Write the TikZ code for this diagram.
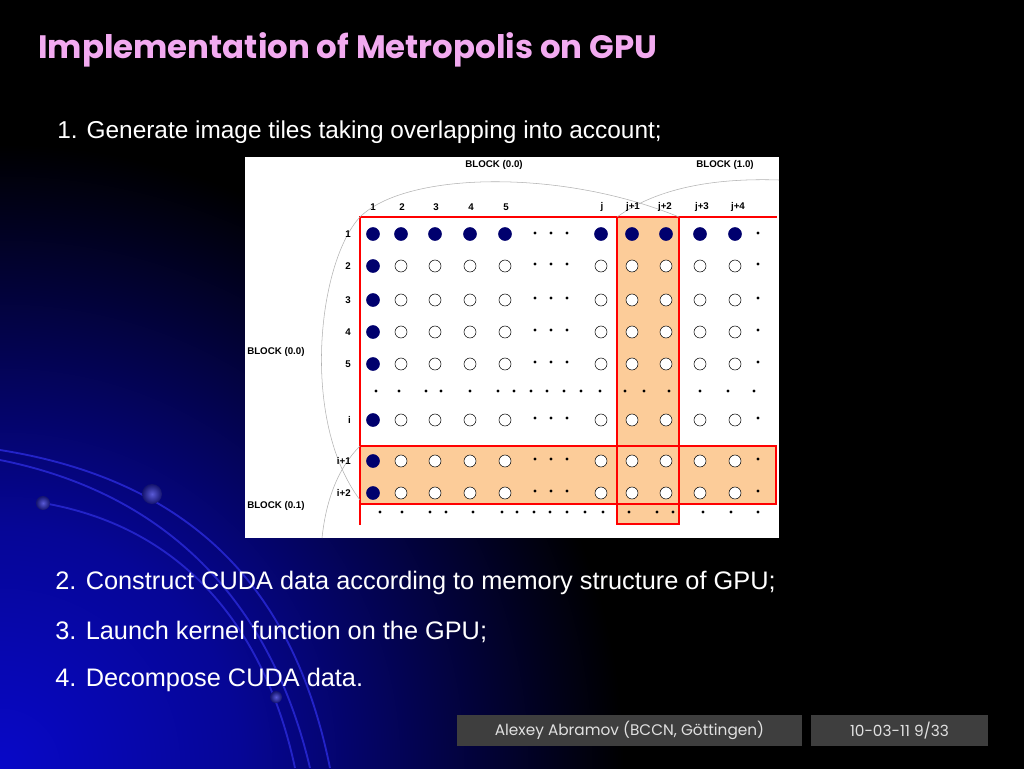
\documentclass[tikz,border=0pt]{standalone}
\usepackage{fontspec}
\setmainfont{Liberation Sans}
\newfontfamily\titlefont{Poppins}
\usetikzlibrary{calc,positioning}
\definecolor{titlepink}{RGB}{242,170,240}
\definecolor{tileorange}{RGB}{252,204,153}
\definecolor{pixnavy}{RGB}{0,0,110}
\definecolor{footgray}{RGB}{62,62,62}
\definecolor{glowblue}{RGB}{8,8,200}
\definecolor{swooshblue}{RGB}{35,35,200}
\pgfdeclareradialshading{cornerglow}{\pgfpoint{0bp}{0bp}}{color(0bp)=(glowblue); color(5bp)=(glowblue!75!black); color(13bp)=(black); color(50bp)=(black)}
\tikzset{
pix/.style={circle, draw=black, line width=0.4pt, fill=white, minimum size=9pt, inner sep=0pt}, % open pixel
pixon/.style={circle, draw=pixnavy, fill=pixnavy, minimum size=9.75pt, inner sep=0pt}, % pixel that overlaps
tinydot/.style={circle, fill=black, minimum size=2.4pt, inner sep=0pt},
lbl/.style={font=\fontsize{7.3}{8}\selectfont\bfseries, inner sep=0pt},
body/.style={text=white, font=\fontsize{19}{22}\selectfont, anchor=west, inner sep=0pt},
footbox/.style={fill=footgray, text=white!88!black, minimum height=23.25pt, font=\titlefont\fontsize{11.5}{13}\selectfont},
redline/.style={red, line width=1.5pt},
blockarc/.style={gray!60, line width=0.4pt},
swoosh/.style={swooshblue, line width=1.4pt},
bead/.style={inner color=swooshblue!75!white, outer color=swooshblue!55!black},
}

\begin{document}
\begin{tikzpicture}[x=0.75pt,y=0.75pt,yscale=-1,xscale=1]
\useasboundingbox (0,0) rectangle (1024,768);
%Background
\fill[black] (-10,-10) rectangle (1034,778);
\begin{scope}
\clip (-2,-2) rectangle (1026,770);
\shade[shading=cornerglow] (-1200,-432) rectangle (1200,1968);
\end{scope}
%Swooshes
\draw[swoosh] (0,450) .. controls (220,485) and (300,620) .. (330,768);
\draw[swoosh] (0,460) .. controls (200,500) and (280,640) .. (310,768);
\draw[swoosh] (43,503) .. controls (200,530) and (270,650) .. (295,768);
\shade[bead] (152,494) circle (10);
\shade[bead] (43,503) circle (7);
\shade[bead] (276,697) circle (6);
%Title
\node[text=titlepink, font=\titlefont\bfseries\fontsize{24.3}{28}\selectfont, anchor=west, inner sep=0pt] (title) at (38,50) {Implementation of Metropolis on GPU};
\node[body, font=\fontsize{18.3}{22}\selectfont] (step1) at (57,132) {1. Generate image tiles taking overlapping into account;};
\node[body] (step2) at (55,583) {2. Construct CUDA data according to memory structure of GPU;};
\node[body] (step3) at (55,632) {3. Launch kernel function on the GPU;};
\node[body] (step4) at (55,680) {4. Decompose CUDA data.};
%Panel
\fill[white] (245,157) rectangle (779,538);
%Overlap tiles
\fill[tileorange] (617,217) rectangle (679,524);
\fill[tileorange] (360,446) rectangle (776,504);
\draw[redline] (617,217) rectangle (679,524);
\draw[redline] (360,446) rectangle (776,504);
\draw[redline] (360,525) -- (360,217) -- (777,217);
%Block borders
\draw[blockarc] (679,217) .. controls (560,168) and (405,172) .. (360,217) .. controls (318,262) and (300,420) .. (360,500);
\draw[blockarc] (617,217) .. controls (660,186) and (720,178) .. (779,180);
\draw[blockarc] (360,446) .. controls (338,468) and (326,500) .. (322,538);
\node[lbl] (b00) at (494,165) {BLOCK (0.0)};
\node[lbl] (b10) at (725,165) {BLOCK (1.0)};
\node[lbl, anchor=west] (b00l) at (247,352) {BLOCK (0.0)};
\node[lbl, anchor=west] (b01) at (247,506) {BLOCK (0.1)};
%Column and row labels
\foreach \c/\x in {1/373,2/402,3/436,4/471,5/506,j/602,j+1/633,j+2/665,j+3/702,j+4/738}
  \node[lbl] (col-\c) at (\x,207) {\c};
\foreach \r/\y in {1/234,2/266,3/300,4/332,5/364,i/420,i+1/461,i+2/493}
  \node[lbl, anchor=east] (row-\r) at (351,\y) {\r};
%Pixels
\foreach \r/\y in {1/234,2/266,3/300,4/332,5/364,i/420,i1/461,i2/493}
  \node[pixon] (p-\r-1) at (373,\y) {};
\foreach \c/\x in {2/401,3/435,4/470,5/505,j/601,j1/632,j2/666,j3/700,j4/735}
  \node[pixon] (p-1-\c) at (\x,234) {};
\foreach \r/\y in {2/266,3/300,4/332,5/364,i/420,i1/461,i2/493}
  \foreach \c/\x in {2/401,3/435,4/470,5/505,j/601,j1/632,j2/666,j3/700,j4/735}
    \node[pix] (p-\r-\c) at (\x,\y) {};
%Ellipsis dots
\foreach \y in {233,264,298,330,362,418,459,491}
  \foreach \x in {535,551,567,758}
    \node[tinydot] at (\x,\y) {};
\foreach \x in {376,399,426,441,470,498,514,531,547,564,581,600,625,644,669,700,728,754}
  \node[tinydot] at (\x,391) {};
\foreach \x in {380,402,430,446,473,502,517,534,550,567,585,603,629,657,673,703,731,758}
  \node[tinydot] at (\x,512) {};
%Footer
\node[footbox, minimum width=258.75pt] (author) at (629.5,730.5) {Alexey Abramov (BCCN, Göttingen)};
\node[footbox, minimum width=132.75pt] (pageno) at (899.5,730.5) {10-03-11 9/33};
\end{tikzpicture}
\end{document}
